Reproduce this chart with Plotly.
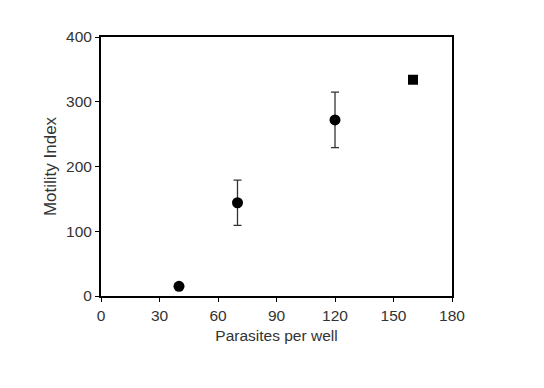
import plotly.graph_objects as go

parasites = [40, 70, 120]
motility = [15, 144, 272]
err = [0, 35, 43]
parasites_sq = [160]
motility_sq = [334]

fig = go.Figure()
fig.add_trace(go.Scatter(
    x=parasites, y=motility, mode="markers",
    marker=dict(symbol="circle", size=11, color="black"),
    error_y=dict(type="data", array=err, visible=True, color="#333", thickness=1.3, width=4),
    showlegend=False))
fig.add_trace(go.Scatter(
    x=parasites_sq, y=motility_sq, mode="markers",
    marker=dict(symbol="square", size=10, color="black"),
    showlegend=False))

FONT = "Liberation Sans, Arial"
axis_common = dict(showline=True, linecolor="black", linewidth=2, mirror=True,
                   ticks="outside", ticklen=4, tickcolor="black", tickwidth=1,
                   showgrid=False, zeroline=False,
                   tickfont=dict(family=FONT, size=15.5, color="#333"))
fig.update_xaxes(range=[0, 180], tickvals=[0, 30, 60, 90, 120, 150, 180],
                 title=dict(text="Parasites per well", font=dict(family=FONT, size=15.5, color="#333"), standoff=8),
                 **axis_common)
fig.update_yaxes(range=[0, 400], tickvals=[0, 100, 200, 300, 400],
                 title=dict(text="Motility Index", font=dict(family=FONT, size=17, color="#333"), standoff=5),
                 **axis_common)
fig.update_layout(width=544, height=388, margin=dict(l=101, r=92, t=37, b=92),
                  plot_bgcolor="white", paper_bgcolor="white")
fig.write_html("out.html")
